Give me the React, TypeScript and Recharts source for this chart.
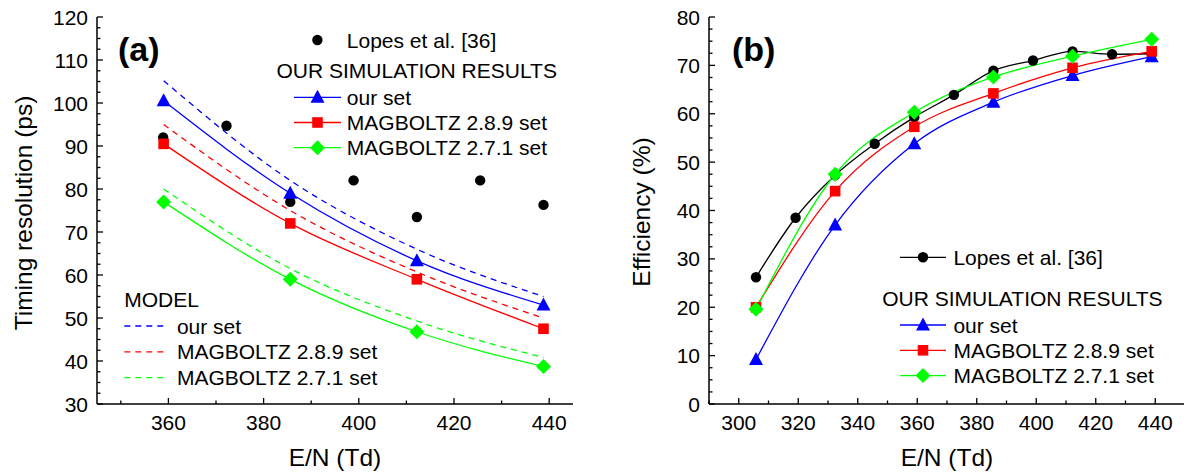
import React from 'react';
import { ComposedChart, Line, XAxis, YAxis } from 'recharts';

const FONT = '"Liberation Sans", Arial, Helvetica, sans-serif';
const BLUE = '#0000ff';
const RED = '#ff0000';
const GREEN = '#00ff00';
const BLACK = '#000000';

// ---------- Panel (a): timing resolution ----------
const lopesEN_a = [358.9, 372.2, 385.6, 398.9, 412.2, 425.5, 438.8];
const lopesTiming = [92.0, 94.7, 77.0, 82.0, 73.5, 82.0, 76.3];
const simEN_a = [359.0, 385.6, 412.2, 438.8];
const timingOurSet = [100.5, 79.0, 63.3, 53.0];
const timingMag289 = [90.5, 72.0, 59.0, 47.5];
const timingMag271 = [77.0, 59.0, 46.8, 38.7];
const modelEN = [359.0, 385.6, 412.2, 438.8];
const modelOurSet = [105.2, 82.0, 66.0, 55.0];
const modelMag289 = [95.0, 75.0, 60.7, 50.0];
const modelMag271 = [80.0, 61.5, 49.3, 40.8];

const xMajorA = [360, 380, 400, 420, 440];
const xMinorA = [350, 370, 390, 410, 430];
const yMajorA = [30, 40, 50, 60, 70, 80, 90, 100, 110, 120];

// ---------- Panel (b): efficiency ----------
const lopesEN_b = [305.8, 319.1, 332.4, 345.7, 359.0, 372.3, 385.6, 398.9, 412.2, 425.5, 438.8];
const lopesEff = [26.2, 38.5, 47.3, 53.8, 59.3, 63.9, 68.9, 71.0, 72.9, 72.3, 72.4];
const simEN_b = [305.8, 332.4, 359.0, 385.6, 412.2, 438.8];
const effOurSet = [9.2, 37.0, 53.8, 62.4, 67.9, 71.8];
const effMag289 = [20.0, 44.0, 57.3, 64.2, 69.5, 72.9];
const effMag271 = [19.6, 47.5, 60.3, 67.6, 71.9, 75.4];

const xMajorB = [300, 320, 340, 360, 380, 400, 420, 440];
const xMinorB = [290, 310, 330, 350, 370, 390, 410, 430, 450];
const yMajorB = [0, 10, 20, 30, 40, 50, 60, 70, 80];

const zip = (xs: number[], ys: number[]) => xs.map((x, i) => ({ x, y: ys[i] }));
const withQuarters = (majors: number[]) => {
  const out: number[] = [];
  majors.forEach((m, i) => {
    out.push(m);
    if (i < majors.length - 1) {
      const step = (majors[i + 1] - m) / 4;
      out.push(m + step, m + 2 * step, m + 3 * step);
    }
  });
  return out;
};

// ---------- markers ----------
const Circle = ({ cx, cy, c }: any) => <circle cx={cx} cy={cy} r={5.2} fill={c} />;
const Tri = ({ cx, cy, c }: any) => (
  <polygon points={`${cx},${cy - 7.5} ${cx + 7},${cy + 5.5} ${cx - 7},${cy + 5.5}`} fill={c} />
);
const Sq = ({ cx, cy, c }: any) => <rect x={cx - 5.3} y={cy - 5.3} width={10.6} height={10.6} fill={c} />;
const Dia = ({ cx, cy, c }: any) => (
  <polygon points={`${cx},${cy - 7.5} ${cx + 7.5},${cy} ${cx},${cy + 7.5} ${cx - 7.5},${cy}`} fill={c} />
);
const mkDot = (Shape: any, c: string) => (p: any) => (
  <Shape key={`d-${p.index}`} cx={p.cx} cy={p.cy} c={c} />
);

// ---------- ticks ----------
const MAJ = 6;
const MIN = 3.5;
const tickText = { fontSize: 21, fontFamily: FONT, fill: BLACK } as const;

const BottomTick = (majors: number[]) => (p: any) => {
  const isMaj = majors.includes(p.payload.value);
  return (
    <g>
      <line x1={p.x} x2={p.x} y1={p.y} y2={p.y - (isMaj ? MAJ : MIN)} stroke={BLACK} strokeWidth={1.3} />
      {isMaj && (
        <text x={p.x} y={p.y + 25.5} textAnchor="middle" {...tickText}>
          {p.payload.value}
        </text>
      )}
    </g>
  );
};
const TopTick = (majors: number[]) => (p: any) => {
  const isMaj = majors.includes(p.payload.value);
  return <line x1={p.x} x2={p.x} y1={p.y} y2={p.y + (isMaj ? MAJ : MIN)} stroke={BLACK} strokeWidth={1.3} />;
};
const LeftTick = (majors: number[]) => (p: any) => {
  const isMaj = majors.includes(p.payload.value);
  return (
    <g>
      <line x1={p.x} x2={p.x + (isMaj ? MAJ : MIN)} y1={p.y} y2={p.y} stroke={BLACK} strokeWidth={1.3} />
      {isMaj && (
        <text x={p.x - 9} y={p.y} dy="0.36em" textAnchor="end" {...tickText}>
          {p.payload.value}
        </text>
      )}
    </g>
  );
};
const RightTick = (majors: number[]) => (p: any) => {
  const isMaj = majors.includes(p.payload.value);
  return <line x1={p.x} x2={p.x - (isMaj ? MAJ : MIN)} y1={p.y} y2={p.y} stroke={BLACK} strokeWidth={1.3} />;
};

const axisLine = { stroke: BLACK, strokeWidth: 1.5 };

function Frame({ xDomain, xTicks, xMajors, yDomain, yTicks, yMajors, yWidth }: any) {
  return [
    <XAxis
      key="xb"
      xAxisId="b"
      dataKey="x"
      type="number"
      domain={xDomain}
      allowDataOverflow
      ticks={xTicks}
      interval={0}
      tickSize={0}
      tickMargin={0}
      tickLine={false}
      axisLine={axisLine}
      tick={BottomTick(xMajors)}
      height={70}
    />,
    <XAxis
      key="xt"
      xAxisId="t"
      orientation="top"
      dataKey="x"
      type="number"
      domain={xDomain}
      allowDataOverflow
      ticks={xTicks}
      interval={0}
      tickSize={0}
      tickMargin={0}
      tickLine={false}
      axisLine={axisLine}
      tick={TopTick(xMajors)}
      height={0}
    />,
    <YAxis
      key="yl"
      yAxisId="l"
      dataKey="y"
      type="number"
      domain={yDomain}
      allowDataOverflow
      ticks={yTicks}
      interval={0}
      tickSize={0}
      tickMargin={0}
      tickLine={false}
      axisLine={axisLine}
      tick={LeftTick(yMajors)}
      width={yWidth}
    />,
    <YAxis
      key="yr"
      yAxisId="r"
      orientation="right"
      dataKey="y"
      type="number"
      domain={yDomain}
      allowDataOverflow
      ticks={yTicks}
      interval={0}
      tickSize={0}
      tickMargin={0}
      tickLine={false}
      axisLine={axisLine}
      tick={RightTick(yMajors)}
      width={0}
    />,
  ];
}

const series = (key: string, data: any[], color: string, Shape: any, opts: any = {}) => (
  <Line
    key={key}
    xAxisId="b"
    yAxisId="l"
    data={data}
    dataKey="y"
    type="monotone"
    stroke={color}
    strokeWidth={1.3}
    dot={Shape ? mkDot(Shape, color) : false}
    activeDot={false}
    isAnimationActive={false}
    {...opts}
  />
);

function PanelA() {
  return (
    <ComposedChart width={590} height={474} margin={{ top: 17, right: 17, bottom: 0, left: 0 }}>
      {Frame({
        xDomain: [345, 445],
        xTicks: [...xMajorA, ...xMinorA].sort((a, b) => a - b),
        xMajors: xMajorA,
        yDomain: [30, 120],
        yTicks: withQuarters(yMajorA),
        yMajors: yMajorA,
        yWidth: 97,
      })}
      {series('mo', zip(modelEN, modelOurSet), BLUE, null, { strokeDasharray: '6 5' })}
      {series('m289', zip(modelEN, modelMag289), RED, null, { strokeDasharray: '6 5' })}
      {series('m271', zip(modelEN, modelMag271), GREEN, null, { strokeDasharray: '6 5' })}
      {series('lopes', zip(lopesEN_a, lopesTiming), 'none', null, { dot: mkDot(Circle, BLACK) })}
      {series('so', zip(simEN_a, timingOurSet), BLUE, Tri)}
      {series('s289', zip(simEN_a, timingMag289), RED, Sq)}
      {series('s271', zip(simEN_a, timingMag271), GREEN, Dia)}
    </ComposedChart>
  );
}

function PanelB() {
  return (
    <ComposedChart width={600} height={474} margin={{ top: 17, right: 5, bottom: 0, left: 0 }}>
      {Frame({
        xDomain: [290, 450],
        xTicks: [...xMajorB, ...xMinorB].sort((a, b) => a - b),
        xMajors: xMajorB,
        yDomain: [0, 80],
        yTicks: withQuarters(yMajorB),
        yMajors: yMajorB,
        yWidth: 119,
      })}
      {series('lopes', zip(lopesEN_b, lopesEff), BLACK, Circle)}
      {series('so', zip(simEN_b, effOurSet), BLUE, Tri)}
      {series('s289', zip(simEN_b, effMag289), RED, Sq)}
      {series('s271', zip(simEN_b, effMag271), GREEN, Dia)}
    </ComposedChart>
  );
}

const legendText = { fontSize: 21, fontFamily: FONT, fill: BLACK } as const;

function LegendRow({ x1, x2, y, color, Shape, dashed, tx, label }: any) {
  const mx = (x1 + x2) / 2;
  return (
    <g>
      <line x1={x1} x2={x2} y1={y} y2={y} stroke={color} strokeWidth={1.3} strokeDasharray={dashed ? '6 5' : undefined} />
      {Shape && <Shape cx={mx} cy={y} c={color} />}
      <text x={tx} y={y} dy="0.36em" {...legendText}>
        {label}
      </text>
    </g>
  );
}

const simNames = ['our set', 'MAGBOLTZ 2.8.9 set', 'MAGBOLTZ 2.7.1 set'];
const simColors = [BLUE, RED, GREEN];
const simShapes = [Tri, Sq, Dia];

function Overlay() {
  return (
    <svg width={1184} height={474} style={{ position: 'absolute', left: 0, top: 0, pointerEvents: 'none' }}>
      {/* panel labels */}
      <text x={118} y={61} fontSize={34} fontWeight="bold" fontFamily={FONT}>(a)</text>
      <text x={732} y={61} fontSize={34} fontWeight="bold" fontFamily={FONT}>(b)</text>
      {/* axis titles */}
      <text x={335} y={466} textAnchor="middle" fontSize={24.5} fontFamily={FONT}>E/N (Td)</text>
      <text x={947} y={466} textAnchor="middle" fontSize={24.5} fontFamily={FONT}>E/N (Td)</text>
      <text transform="translate(32,213) rotate(-90)" textAnchor="middle" fontSize={24.5} fontFamily={FONT}>
        Timing resolution (ps)
      </text>
      <text transform="translate(650,212) rotate(-90)" textAnchor="middle" fontSize={24.5} fontFamily={FONT}>
        Efficiency (%)
      </text>

      {/* legend (a) */}
      <Circle cx={317.4} cy={40} c={BLACK} />
      <text x={346.8} y={40} dy="0.36em" {...legendText}>Lopes et al. [36]</text>
      <text x={276.5} y={78} {...legendText}>OUR SIMULATION RESULTS</text>
      {simNames.map((n, i) => (
        <LegendRow key={n} x1={294} x2={341} y={97.3 + i * 25.2} color={simColors[i]} Shape={simShapes[i]} tx={346.8} label={n} />
      ))}
      <text x={124.3} y={307} {...legendText}>MODEL</text>
      {simNames.map((n, i) => (
        <LegendRow key={'m' + n} x1={124.3} x2={167} y={326 + i * 25.8} color={simColors[i]} dashed tx={176.9} label={n} />
      ))}

      {/* legend (b) */}
      <LegendRow x1={900} x2={946} y={257.3} color={BLACK} Shape={Circle} tx={953.4} label="Lopes et al. [36]" />
      <text x={882.2} y={306} {...legendText}>OUR SIMULATION RESULTS</text>
      {simNames.map((n, i) => (
        <LegendRow key={'b' + n} x1={900} x2={946} y={325 + i * 25.3} color={simColors[i]} Shape={simShapes[i]} tx={953.4} label={n} />
      ))}
    </svg>
  );
}

export default function App() {
  return (
    <div
      style={{
        position: 'absolute',
        left: 0,
        top: 0,
        width: 1184,
        height: 474,
        overflow: 'hidden',
        background: '#fff',
        fontFamily: FONT,
      }}
    >
      <div style={{ position: 'absolute', left: 0, top: 0 }}>
        <PanelA />
      </div>
      <div style={{ position: 'absolute', left: 590, top: 0 }}>
        <PanelB />
      </div>
      <Overlay />
    </div>
  );
}
